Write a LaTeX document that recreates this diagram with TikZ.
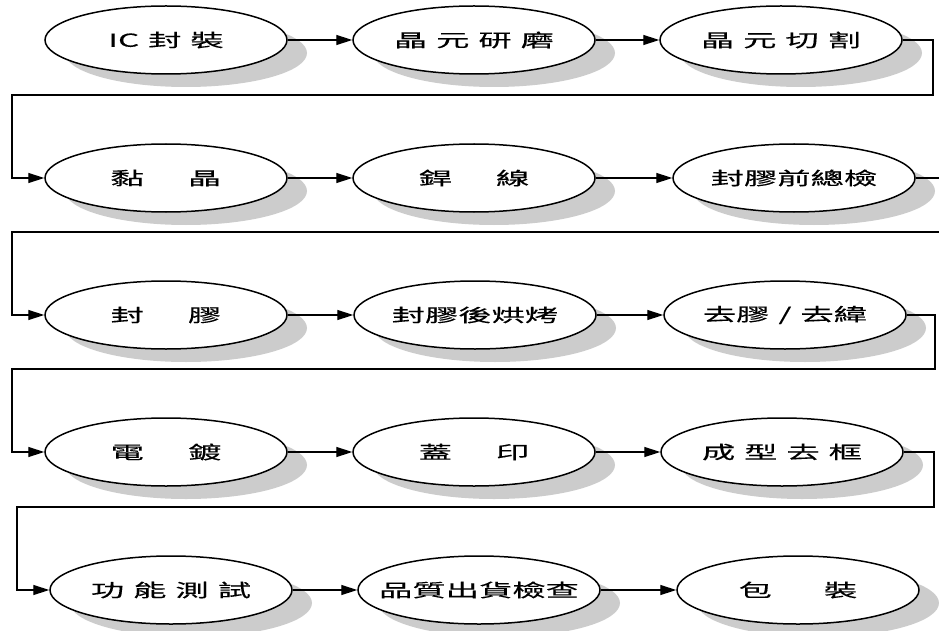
\documentclass[tikz,border=0pt]{standalone}
\usepackage{fontspec}
\newfontfamily\cjk[FakeStretch=1.85,WordSpace=1.2,FakeBold=0.3]{Noto Sans CJK TC}
\usetikzlibrary{shapes.geometric,shadows,arrows.meta}
\newcommand\wgap{\hspace{44pt}}
\begin{document}
\begin{tikzpicture}[x=1pt,y=-1pt,
  proc/.style={ellipse, draw, line width=1.5pt, fill=white,
    minimum width=242pt, minimum height=68pt, inner xsep=-40pt, inner ysep=0pt,
    font=\cjk\fontsize{18}{20}\selectfont,
    drop shadow={shadow xshift=20pt, shadow yshift=-13pt, fill=black!20, opacity=1}},
  conn/.style={line width=1.4pt, -{Triangle[length=16pt,width=10pt]}}]
\useasboundingbox (0,0) rectangle (939,631);
\clip (0,0) rectangle (939,631);
% row 1
\node[proc] (A1) at (166,40) {IC 封 裝};
\node[proc] (A2) at (474,40) {晶 元 研 磨};
\node[proc] (A3) at (781,40) {晶 元 切 割};
% row 2
\node[proc] (B1) at (166,178) {黏\wgap 晶};
\node[proc] (B2) at (474,178) {銲\wgap 線};
\node[proc] (B3) at (794,178) {封膠前總檢};
% row 3
\node[proc] (C1) at (166,315) {封\wgap 膠};
\node[proc] (C2) at (475,315) {封膠後烘烤};
\node[proc] (C3) at (785,315) {去膠 / 去緯};
% row 4
\node[proc] (D1) at (166,452) {電\wgap 鍍};
\node[proc] (D2) at (474,452) {蓋\wgap 印};
\node[proc] (D3) at (782,452) {成 型 去 框};
% row 5
\node[proc] (E1) at (171,590) {功 能 測 試};
\node[proc] (E2) at (479,590) {品質出貨檢查};
\node[proc] (E3) at (798,590) {包\hspace{52pt}裝};
% turn points
\coordinate (r1) at (933,95);  \coordinate (l1) at (12,95);
\coordinate (r2) at (960,232); \coordinate (l2) at (12,232);
\coordinate (r3) at (935,369); \coordinate (l3) at (12,369);
\coordinate (r4) at (934,507); \coordinate (l4) at (17,507);
% connectors
\draw[conn] (A1) -- (A2);
\draw[conn] (A2) -- (A3);
\draw[conn] (A3.east) -| (r1) -- (l1) |- (B1.west);
\draw[conn] (B1) -- (B2);
\draw[conn] (B2) -- (B3);
\draw[conn] (B3.east) -| (r2) -- (l2) |- (C1.west);
\draw[conn] (C1) -- (C2);
\draw[conn] (C2) -- (C3);
\draw[conn] (C3.east) -| (r3) -- (l3) |- (D1.west);
\draw[conn] (D1) -- (D2);
\draw[conn] (D2) -- (D3);
\draw[conn] (D3.east) -| (r4) -- (l4) |- (E1.west);
\draw[conn] (E1) -- (E2);
\draw[conn] (E2) -- (E3);
\end{tikzpicture}
\end{document}
